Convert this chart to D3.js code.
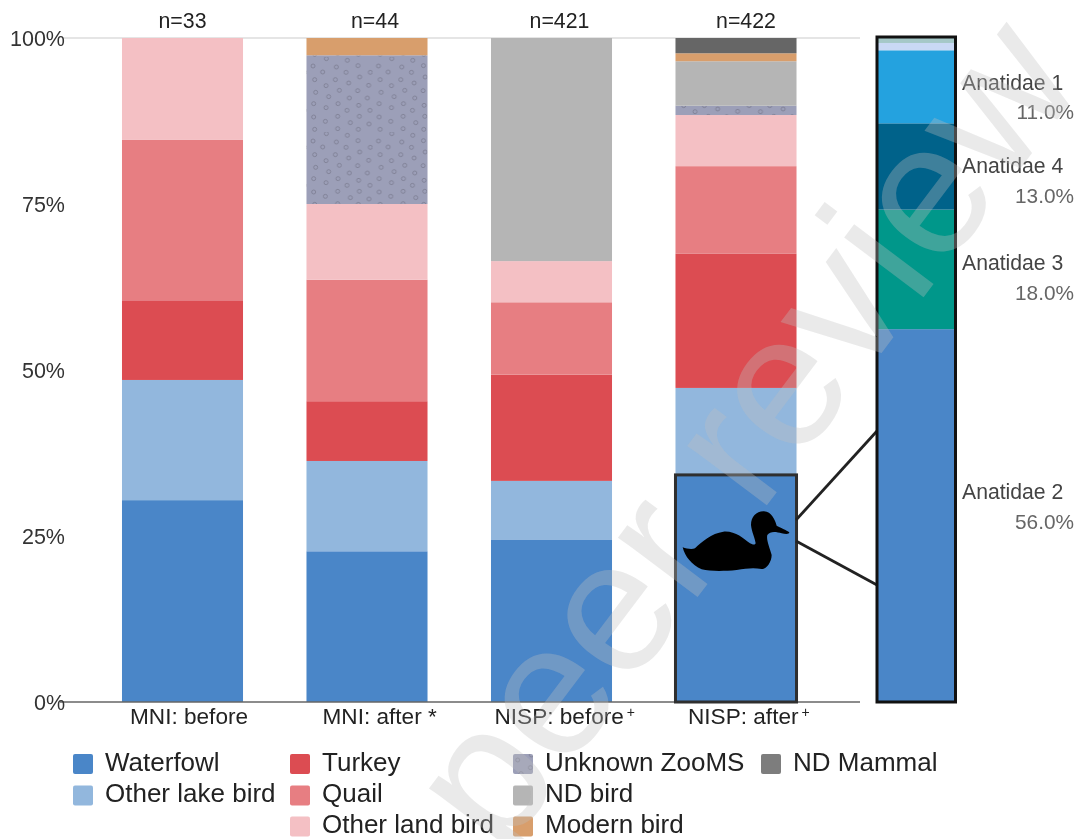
<!DOCTYPE html>
<html><head><meta charset="utf-8">
<script src="https://cdn.jsdelivr.net/npm/d3@7/dist/d3.min.js"></script>
<style>html,body{margin:0;padding:0;background:#fff}svg{display:block;font-family:"Liberation Sans",Arial,sans-serif;filter:blur(.4px)}</style>
</head><body><div id="c"></div>
<script>
const categories = ["MNI: before","MNI: after","NISP: before","NISP: after"];
const catMarks = [""," *","+","+"];
const counts = ["n=33","n=44","n=421","n=422"];
const seriesNames = ["Waterfowl","Other lake bird","Turkey","Quail","Other land bird","Unknown ZooMS","ND bird","Modern bird","ND Mammal"];
const seriesColors = ["#4a86c8","#92b7dd","#dc4c52","#e77e82","#f4c0c4","#9c9fb8","#b5b5b5","#d89e6c","#666666"];
const waterfowl = [30.4,22.7,24.4,34.2];
const lakeBird  = [18.1,13.6,8.9,13.1];
const turkey    = [12.0,9.0,16.0,20.2];
const quail     = [24.2,18.3,10.9,13.2];
const landBird  = [15.3,11.4,6.2,7.7];
const unknown   = [0,22.4,0,1.4];
const ndBird    = [0,0,33.6,6.7];
const modern    = [0,2.6,0,1.2];
const mammal    = [0,0,0,2.3];
const seriesValues = [waterfowl,lakeBird,turkey,quail,landBird,unknown,ndBird,modern,mammal];
const yTicks = [0,25,50,75,100];
const insetNames = ["Anatidae 2","Anatidae 3","Anatidae 4","Anatidae 1","Other a","Other b"];
const insetValues = [56,18,13,11,1.1,0.9];
const insetColors = ["#4a86c8","#00978a","#00628a","#24a2df","#c9d9f5","#a5c8c8"];
const legendCols = [[0,1],[2,3,4],[5,6,7],[8]];
const legendX = [73,290,513,761];

const W=1079,H=839;
const svg=d3.select("#c").append("svg").attr("width",W).attr("height",H);
const defs=svg.append("defs");
const tile=[[108,115],[171,120],[68,137],[138,140],[203,136],[97,155],[167,156],[240,156],[73,178],[135,178],[208,170],[107,196],[175,188],[235,195],[76,216],[147,210],[202,211],[115,229],[177,233],[231,233],[70,250],[143,250],[205,255],[107,262],[170,270],[239,270],[70,290],[142,288],[207,288],[105,303],[180,307],[236,311],[73,327],[142,325],[204,327]];
function makePattern(id,tx,ty){
  const p=defs.append("pattern").attr("id",id).attr("patternUnits","userSpaceOnUse").attr("width",65.5).attr("height",75).attr("patternTransform",`translate(${tx},${ty})`);
  p.append("rect").attr("width",66).attr("height",75).attr("fill",seriesColors[5]);
  p.selectAll("circle").data(tile).join("circle").attr("cx",d=>(d[0]-50)/3).attr("cy",d=>(d[1]-110)/3).attr("r",2).attr("fill","none").attr("stroke","#7d7e93").attr("stroke-width",.9);
}
makePattern("pat1",307,57);
makePattern("pat3",676,83);
makePattern("patL",502,745);

const x=d3.scaleBand().domain(categories).range([90.25,828.25]).paddingInner(.344).paddingOuter(.172);
const y=d3.scaleLinear().domain([0,100]).range([702,38]);

const yAxis=d3.axisLeft(y).tickValues(yTicks).tickFormat(d=>d+"%").tickSize(0).tickPadding(-3);
svg.append("line").attr("x1",62).attr("x2",860).attr("y1",y(100)).attr("y2",y(100)).attr("stroke","#cccccc").attr("stroke-width",1.2);

const rows=categories.map((c,i)=>{const o={cat:c};seriesNames.forEach((s,j)=>o[s]=seriesValues[j][i]);return o;});
const stacked=d3.stack().keys(seriesNames)(rows);
stacked.forEach((layer,j)=>{
  svg.append("g").selectAll("rect").data(layer.filter(d=>d[1]>d[0])).join("rect")
    .attr("x",d=>x(d.data.cat)).attr("width",x.bandwidth())
    .attr("y",d=>y(d[1])).attr("height",d=>y(d[0])-y(d[1]))
    .attr("fill",d=>j===5?(d.data.cat==="MNI: after"?"url(#pat1)":"url(#pat3)"):seriesColors[j]);
});
svg.append("line").attr("x1",60).attr("x2",860).attr("y1",y(0)).attr("y2",y(0)).attr("stroke","#666").attr("stroke-width",1.6);

const yG=svg.append("g").attr("transform","translate(62,1)").call(yAxis);
yG.select(".domain").remove();
yG.selectAll("text").attr("font-size",21.5).attr("font-family",'"Liberation Sans"').attr("fill","#333");

const xG=svg.append("g");
const labelOffsets=[-52.5,-44.5,-57,-48];
const countOffsets=[0,8,8,10];
categories.forEach((c,i)=>{
  const cx=x(c)+x.bandwidth()/2;
  const t=xG.append("text").attr("x",cx+labelOffsets[i]).attr("y",724).attr("font-size",22.6).attr("fill","#222").text(c+(catMarks[i]===" *"?" *":""));
  if(catMarks[i]==="+") t.append("tspan").attr("dx",3).attr("dy",-7).attr("font-size",14).text("+");
  svg.append("text").attr("x",cx+countOffsets[i]).attr("y",27.5).attr("text-anchor","middle").attr("font-size",21.3).attr("fill","#222").text(counts[i]);
});

const last=categories[3];
svg.append("rect").attr("x",x(last)).attr("width",x.bandwidth()).attr("y",y(waterfowl[3])).attr("height",y(0)-y(waterfowl[3])).attr("fill","none").attr("stroke","#2f2f2f").attr("stroke-width",3);

const insetX=877,insetW=78.5;
svg.append("line").attr("x1",796).attr("y1",520).attr("x2",insetX).attr("y2",431).attr("stroke","#222").attr("stroke-width",2.8);
svg.append("line").attr("x1",796).attr("y1",541).attr("x2",insetX).attr("y2",585).attr("stroke","#222").attr("stroke-width",2.8);

let acc=0;
const insetG=svg.append("g").attr("transform","translate(0,-1)");
insetValues.forEach((v,i)=>{
  insetG.append("rect").attr("x",insetX).attr("width",insetW).attr("y",y(acc+v)).attr("height",y(acc)-y(acc+v)+(i===0?1:0)).attr("fill",insetColors[i]);
  acc+=v;
});
svg.append("rect").attr("x",insetX).attr("y",37).attr("width",insetW).attr("height",665).attr("fill","none").attr("stroke","#111").attr("stroke-width",3);

const insetLabelY=[[499,529],[270,300],[173,203],[90,119]];
[0,1,2,3].forEach(i=>{
  svg.append("text").attr("x",962).attr("y",insetLabelY[i][0]).attr("font-size",21.2).attr("fill","#444").text(insetNames[i]);
  svg.append("text").attr("x",1074).attr("y",insetLabelY[i][1]).attr("text-anchor","end").attr("font-size",20.8).attr("fill","#666").text(insetValues[i].toFixed(1)+"%");
});

const legendRowY=[755,786.5,817.5];
legendCols.forEach((col,ci)=>{
  col.forEach((s,r)=>{
    svg.append("rect").attr("x",legendX[ci]).attr("y",legendRowY[r]-1).attr("width",20).attr("height",20).attr("rx",2)
      .attr("fill",s===5?"url(#patL)":seriesColors[s]).attr("opacity",s===8?.85:1);
    svg.append("text").attr("x",legendX[ci]+32).attr("y",legendRowY[r]+15.5).attr("font-size",26).attr("fill","#222").text(seriesNames[s]);
  });
});

svg.append("text").attr("transform","translate(501,858) rotate(-53)").attr("font-size",188).attr("fill","rgb(190,190,190)").attr("fill-opacity",.33).attr("font-family",'"Liberation Sans"').text("peer review");

svg.append("path").attr("transform","translate(660,460) scale(0.3333)").attr("fill","#000")
 .attr("d","M68,262 C80,266 95,270 105,265 C125,245 155,220 190,215 C225,212 250,235 270,250 C280,255 285,255 287,250 C285,235 275,215 273,195 C273,170 290,153 312,154 C335,155 345,180 350,197 C360,203 380,210 388,217 C388,224 375,222 365,220 C350,215 330,212 322,225 C318,240 330,265 335,285 C335,305 320,328 305,327 C280,322 260,325 230,330 C190,334 150,334 125,328 C95,315 75,290 68,262 Z");
</script></body></html>
